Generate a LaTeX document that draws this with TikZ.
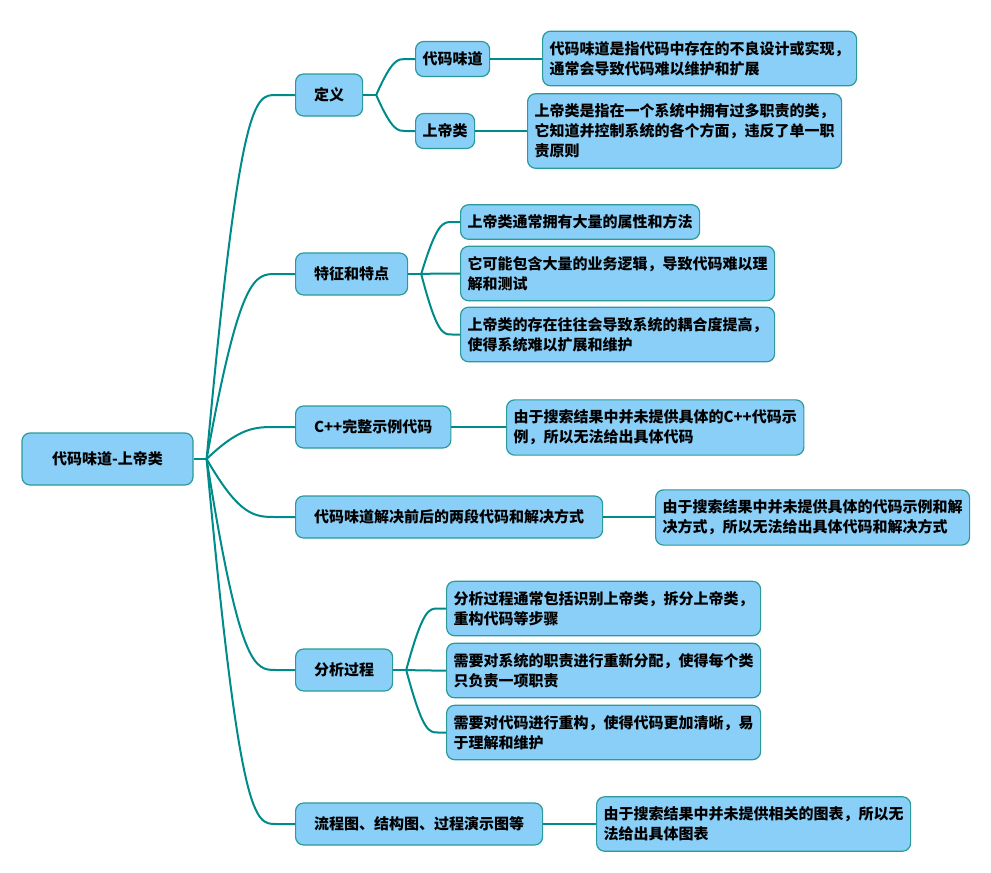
\documentclass[tikz,border=0pt]{standalone}
\usepackage{fontspec}
\setmainfont{Noto Sans CJK SC}
\usetikzlibrary{calc}
\definecolor{boxfill}{HTML}{89CFF8}
\definecolor{boxline}{HTML}{2A9A9A}
\definecolor{linkcol}{HTML}{008B8B}
\tikzset{
    box/.style={draw=boxline,fill=boxfill,line width=1.2pt,rounded corners=8pt,text=black,
        font=\fontsize{15}{20}\selectfont\bfseries},
    rootbox/.style={box,minimum width=171pt,minimum height=52pt},
    topic/.style={box,anchor=west,minimum height=42pt,inner xsep=18.5pt},
    sub/.style={box,anchor=west,minimum height=35pt,inner xsep=7pt},
    leaf/.style={box,anchor=west,align=left,inner xsep=7pt,inner ysep=10pt},
    link/.style={draw=linkcol,line width=2pt},
}
\begin{document}
\begin{tikzpicture}[x=1pt,y=-1pt]
        \useasboundingbox (0,0) rectangle (991,873);
        % root and first level
        \node[rootbox] (r) at (107.5,459) {代码味道-上帝类};
        \node[topic] (dy) at (295,95) {定义};
        \node[topic] (tz) at (295,274) {特征和特点};
        \node[topic] (cpp) at (295,427) {C++完整示例代码};
        \node[topic] (jj) at (295,517) {代码味道解决前后的两段代码和解决方式};
        \node[topic] (fx) at (295,670) {分析过程};
        \node[topic] (lc) at (295,824) {流程图、结构图、过程演示图等};
        % second level
        \node[sub] (dmwd) at (415,59) {代码味道};
        \node[sub] (sdl) at (415,131) {上帝类};
        \node[leaf] (dmwdd) at (542,58.5) {代码味道是指代码中存在的不良设计或实现，\\通常会导致代码难以维护和扩展};
        \node[leaf] (sdld) at (527,131) {上帝类是指在一个系统中拥有过多职责的类，\\它知道并控制系统的各个方面，违反了单一职\\责原则};
        \node[leaf] (tz1) at (460,222) {上帝类通常拥有大量的属性和方法};
        \node[leaf] (tz2) at (460,273.5) {它可能包含大量的业务逻辑，导致代码难以理\\解和测试};
        \node[leaf] (tz3) at (460,334.5) {上帝类的存在往往会导致系统的耦合度提高，\\使得系统难以扩展和维护};
        \node[leaf] (cppd) at (506,427.5) {由于搜索结果中并未提供具体的C++代码示\\例，所以无法给出具体代码};
        \node[leaf] (jjd) at (655,517.5) {由于搜索结果中并未提供具体的代码示例和解\\决方式，所以无法给出具体代码和解决方式};
        \node[leaf] (fx1) at (446,608.5) {分析过程通常包括识别上帝类，拆分上帝类，\\重构代码等步骤};
        \node[leaf] (fx2) at (446,670.5) {需要对系统的职责进行重新分配，使得每个类\\只负责一项职责};
        \node[leaf] (fx3) at (446,732.5) {需要对代码进行重构，使得代码更加清晰，易\\于理解和维护};
        \node[leaf] (lcd) at (596,824) {由于搜索结果中并未提供相关的图表，所以无\\法给出具体图表};
        % links from the root
        \draw[link] (r.east) -- ++(13,0) coordinate (rj);
        \foreach \t in {dy,tz,cpp,jj,fx,lc}
            \draw[link] (rj) .. controls ($(\t.west)+(-55,0)$) and ($(\t.west)+(-40,0)$) .. ($(\t.west)+(-19,0)$) -- (\t.west);
        % links inside the branches
        \draw[link] (dy.east) -- ++(13,0) coordinate (dyj);
        \foreach \t in {dmwd,sdl}
            \draw[link] (dyj) .. controls ($(\t.west)+(-23,0)$) and ($(\t.west)+(-17,0)$) .. ($(\t.west)+(-10,0)$) -- (\t.west);
        \draw[link] (tz.east) -- ++(13,0) coordinate (tzj);
        \foreach \t in {tz1,tz2,tz3}
            \draw[link] (tzj) .. controls ($(\t.west)+(-23,0)$) and ($(\t.west)+(-17,0)$) .. ($(\t.west)+(-8,0)$) -- (\t.west);
        \draw[link] (fx.east) -- ++(13,0) coordinate (fxj);
        \foreach \t in {fx1,fx2,fx3}
            \draw[link] (fxj) .. controls ($(\t.west)+(-23,0)$) and ($(\t.west)+(-17,0)$) .. ($(\t.west)+(-8,0)$) -- (\t.west);
        % links to the leaves
        \draw[link] (dmwd.east) -- (dmwd.east -| dmwdd.west);
        \draw[link] (sdl.east) -- (sdl.east -| sdld.west);
        \draw[link] (cpp.east) -- (cpp.east -| cppd.west);
        \draw[link] (jj.east) -- (jj.east -| jjd.west);
        \draw[link] (lc.east) -- (lc.east -| lcd.west);
\end{tikzpicture}
\end{document}
